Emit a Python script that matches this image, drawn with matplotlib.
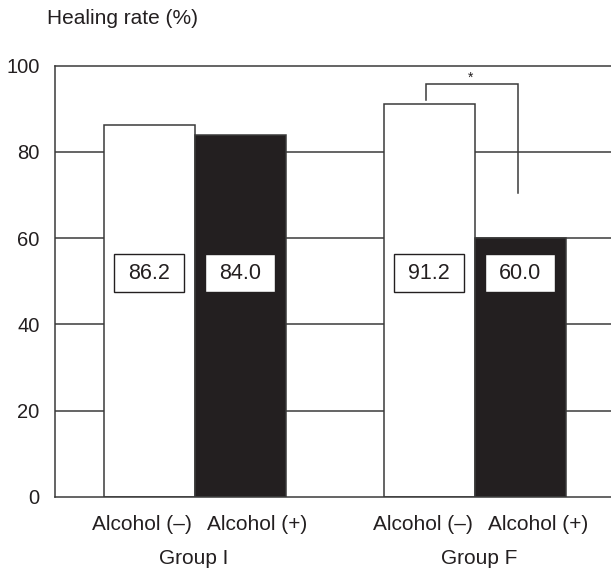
import matplotlib
matplotlib.use("Agg")
import matplotlib.pyplot as plt
from matplotlib.patches import Rectangle
from matplotlib.transforms import blended_transform_factory

plt.rcParams['font.family'] = ['Liberation Sans', 'DejaVu Sans']

# ---- data ----
groups = ["Group I", "Group F"]
conditions = ["Alcohol (\u2013)", "Alcohol (+)"]
values = [86.2, 84.0, 91.2, 60.0]
value_labels = ["86.2", "84.0", "91.2", "60.0"]
bar_pos = [1.033, 2.033, 4.11, 5.11]
bar_colors = ["white", "#231f20", "white", "#231f20"]
yticks = [0, 20, 40, 60, 80, 100]
ylabel = "Healing rate (%)"

INK = "#231f20"
LINE = "#3a3a3a"

fig = plt.figure(figsize=(6.11, 5.68), dpi=100)
ax = fig.add_axes([55/611, (568-496.7)/568, 1 - 55/611, (496.7-65.7)/568])
ax.set_xlim(0, 556/91)
ax.set_ylim(0, 100)

# gridlines (behind bars)
for t in yticks[1:-1]:
    ax.axhline(t, color=LINE, lw=1.1, zorder=0)

ax.bar(bar_pos, values, width=1.0, color=bar_colors, edgecolor=LINE, linewidth=1.1, zorder=2)

# value boxes
for x, lab in zip(bar_pos, value_labels):
    ax.add_patch(Rectangle((x - 0.385, 47.5), 0.77, 8.8, facecolor="white",
                           edgecolor=INK, linewidth=1.0, zorder=3))
    ax.text(x, 51.9, lab, ha="center", va="center", fontsize=15.5, color=INK, zorder=4)

# spines
for s in ["right"]:
    ax.spines[s].set_visible(False)
for s in ["left", "bottom", "top"]:
    ax.spines[s].set_color(LINE)
    ax.spines[s].set_linewidth(1.1)

ax.set_yticks(yticks)
ax.set_yticklabels([str(t) for t in yticks], fontsize=14.5, color=INK)
ax.tick_params(axis="y", length=0, pad=11)
ax.set_xticks([])

# significance bracket
ax.plot([4.08, 4.08, 5.09, 5.09], [92.0, 95.8, 95.8, 70.5], color=LINE, lw=1.1,
        zorder=5, clip_on=False, solid_joinstyle="miter")
ax.text(4.57, 97.2, "*", ha="center", va="center", fontsize=10, color=INK)

# x labels
trans = blended_transform_factory(ax.transData, fig.transFigure)
cond_x = [0.956, 2.22, 4.04, 5.31]
for x, lab in zip(cond_x, conditions * 2):
    ax.text(x, 1 - 525/568, lab, transform=trans, ha="center", va="center",
            fontsize=15, color=INK)
for x, lab in zip([1.52, 4.66], groups):
    ax.text(x, 1 - 558/568, lab, transform=trans, ha="center", va="center",
            fontsize=15, color=INK)

fig.text(46.5/611, 1 - 19/568, ylabel, ha="left", va="center", fontsize=15, color=INK)

fig.savefig("out.png", dpi=100)
